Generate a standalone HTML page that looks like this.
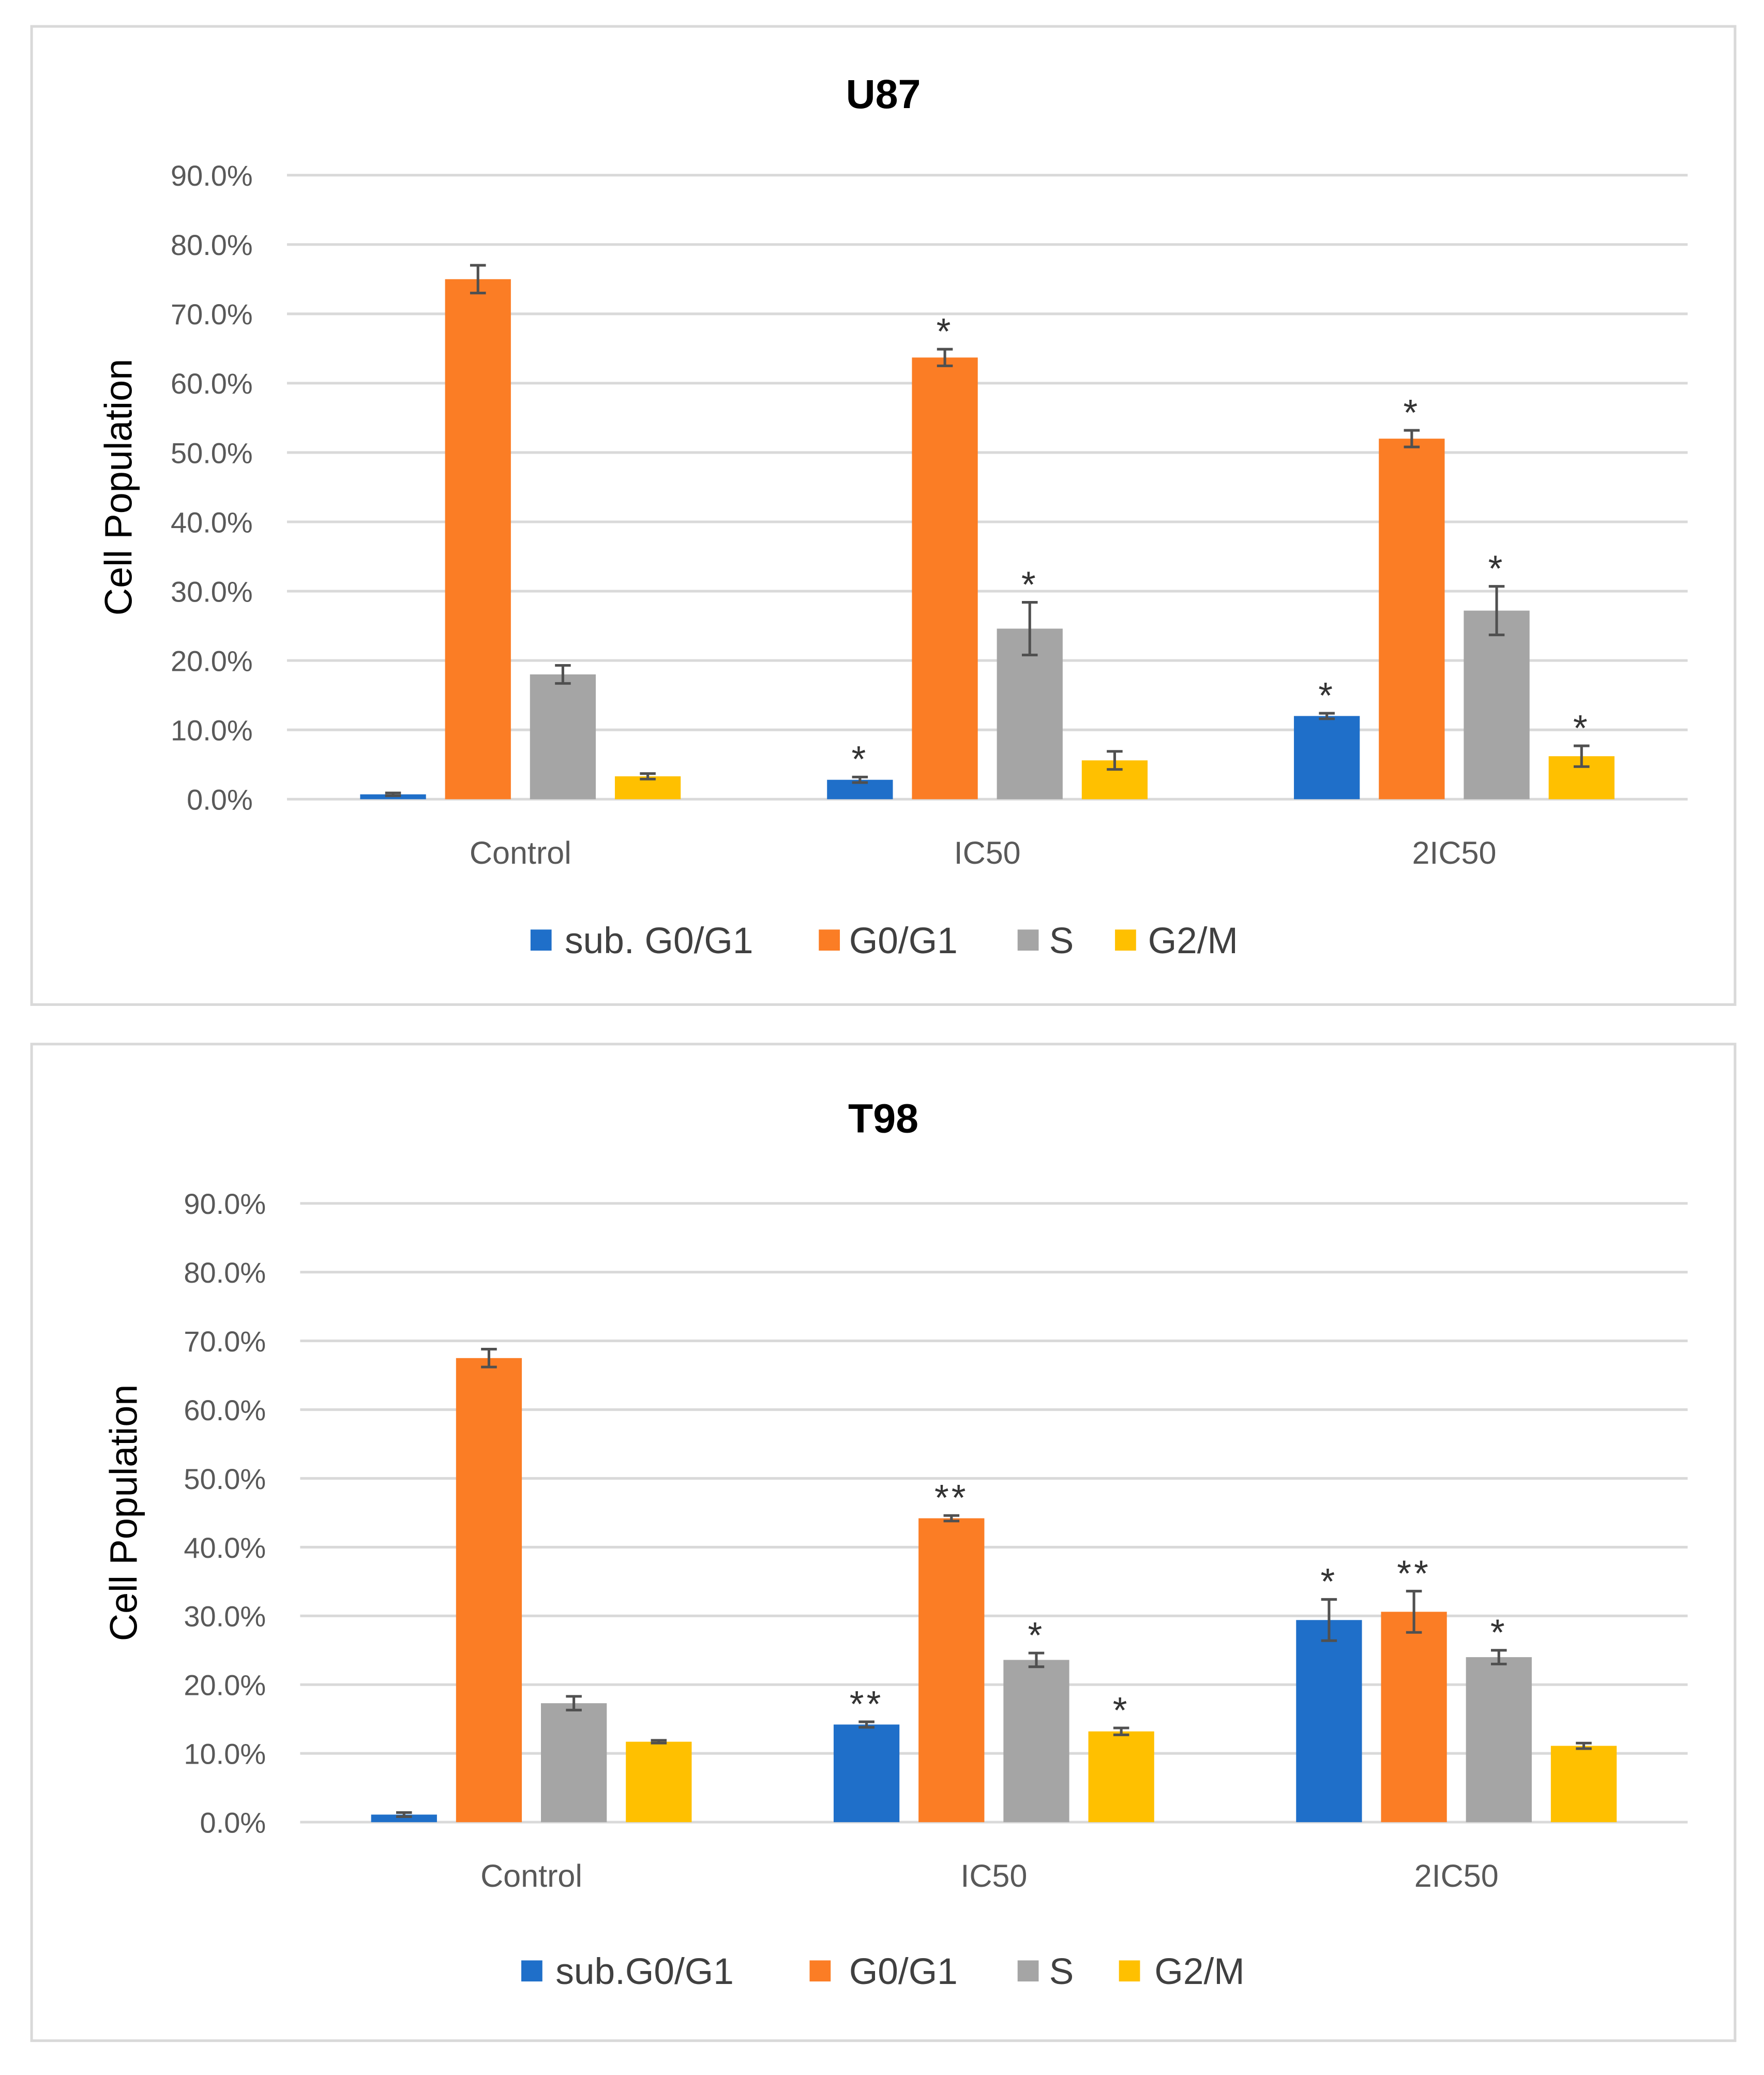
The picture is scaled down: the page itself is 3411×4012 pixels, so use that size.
<!DOCTYPE html>
<html><head><meta charset="utf-8"><style>
html,body{margin:0;padding:0;background:#fff;}
svg{display:block;}
text{font-family:"Liberation Sans",sans-serif;}
</style></head><body>
<svg id="fig" width="3411" height="4012" viewBox="0 0 1340 1576" xmlns="http://www.w3.org/2000/svg">
<rect x="0" y="0" width="1340" height="1576" fill="#fff"/>
</svg>
<script>
const categories = ["Control","IC50","2IC50"];
const seriesNames = ["sub. G0/G1","G0/G1","S","G2/M"];
const seriesNamesT98 = ["sub.G0/G1","G0/G1","S","G2/M"];
const tickLabels = ["0.0%","10.0%","20.0%","30.0%","40.0%","50.0%","60.0%","70.0%","80.0%","90.0%"];
const tickValues = [0,10,20,30,40,50,60,70,80,90];
// U87 values per series (Control, IC50, 2IC50)
const u87Sub = [0.7, 2.8, 12.0];
const u87G0 = [75.0, 63.7, 52.0];
const u87S = [18.0, 24.6, 27.2];
const u87G2 = [3.3, 5.6, 6.2];
const u87SubErr = [0.2, 0.4, 0.4];
const u87G0Err = [2.0, 1.2, 1.2];
const u87SErr = [1.3, 3.8, 3.5];
const u87G2Err = [0.4, 1.3, 1.5];
const u87Stars = [["","*","*"],["","*","*"],["","*","*"],["","","*"]];
// T98
const t98Sub = [1.1, 14.2, 29.4];
const t98G0 = [67.5, 44.2, 30.6];
const t98S = [17.3, 23.6, 24.0];
const t98G2 = [11.7, 13.2, 11.1];
const t98SubErr = [0.3, 0.4, 3.0];
const t98G0Err = [1.3, 0.4, 3.0];
const t98SErr = [1.0, 1.0, 1.0];
const t98G2Err = [0.2, 0.5, 0.4];
const t98Stars = [["","**","*"],["","**","**"],["","*","*"],["","*",""]];

const colors = ["#1f6fc9","#fb7d25","#a5a5a5","#ffc000"];
const NS = "http://www.w3.org/2000/svg";
const svg = document.getElementById('fig');
function mk(tag, attrs, parent, txt){
  const e = document.createElementNS(NS, tag);
  for (const k in attrs) e.setAttribute(k, attrs[k]);
  if (txt !== undefined) e.textContent = txt;
  parent.appendChild(e);
  return e;
}
function drawChart(cfg){
  const g = mk('g', {}, svg);
  
  
  const bg = mk('rect', {x:cfg.box[0], y:cfg.box[1], width:cfg.box[2], height:cfg.box[3], fill:'#fff', stroke:'#d9d9d9', 'stroke-width':2}, g);
  
  
  const t = mk('text', {x:671, y:cfg.titleY, 'text-anchor':'middle', 'font-size':31, 'font-weight':'bold', fill:'#000'}, g, cfg.title);
  
  
  const y = v => cfg.y0 - (v/90)*(cfg.y0 - cfg.y90);
  tickValues.forEach((v,i)=>{
    const l = mk('line', {x1:cfg.x0, x2:cfg.x1, y1:y(v), y2:y(v), stroke:'#d9d9d9', 'stroke-width':2}, g);
    
    
    const tl = mk('text', {x:cfg.x0-26, y:y(v)+8, 'text-anchor':'end', 'font-size':22, fill:'#595959'}, g, tickLabels[i]);
    
    
  });
  const yt = mk('text', {x:0, y:0, transform:`translate(${cfg.axisX},${(cfg.y0+cfg.y90)/2}) rotate(-90)`, 'text-anchor':'middle', 'font-size':29, fill:'#000'}, g, 'Cell Population');
  
  
  const catW = (cfg.x1 - cfg.x0)/3;
  const bw = 50, pitch = 64.5;
  categories.forEach((c,ci)=>{
    const cx = cfg.x0 + catW*(ci+0.5);
    const cl = mk('text', {x:cx, y:cfg.y0+49, 'text-anchor':'middle', 'font-size':24, fill:'#595959'}, g, c);
    
    
    cfg.series.forEach((s,si)=>{
      const bx = cx + (si-1.5)*pitch;
      const v = s[ci], e = cfg.errs[si][ci];
      const r = mk('rect', {x:bx-bw/2, y:y(v), width:bw, height:cfg.y0-y(v), fill:colors[si]}, g);
      
      
      const eg = mk('path', {d:`M${bx},${y(v+e)}V${y(v-e)}M${bx-6},${y(v+e)}H${bx+6}M${bx-6},${y(v-e)}H${bx+6}`, stroke:'#505050', 'stroke-width':2, fill:'none'}, g);
      
      
      const st = cfg.stars[si][ci];
      if (st){
        const sx = mk('text', {x:bx, y:y(v+e)-4, 'text-anchor':'middle', 'font-size':28, fill:'#333', 'letter-spacing':2}, g, st);
        
        
      }
    });
  });
  cfg.legend.forEach((lg,i)=>{
    const sq = mk('rect', {x:lg[0], y:cfg.legY-8, width:16, height:16, fill:colors[i]}, g);
    
    
    const lt = mk('text', {x:lg[1], y:cfg.legY+10, 'font-size':28, fill:'#404040'}, g, cfg.names[i]);
    
    
  });
}
drawChart({name:'u87-chart', title:'U87', box:[24,20,1294,743], titleY:82, x0:218, x1:1282, y0:607, y90:133, axisX:100,
  series:[u87Sub,u87G0,u87S,u87G2], errs:[u87SubErr,u87G0Err,u87SErr,u87G2Err], stars:u87Stars,
  names:seriesNames, legY:714, legend:[[403,429],[622,645],[773,797],[847,872]]});
drawChart({name:'t98-chart', title:'T98', box:[24,793,1294,757], titleY:860, x0:228, x1:1282, y0:1384, y90:914, axisX:104,
  series:[t98Sub,t98G0,t98S,t98G2], errs:[t98SubErr,t98G0Err,t98SErr,t98G2Err], stars:t98Stars,
  names:seriesNamesT98, legY:1497, legend:[[396,422],[615,645],[773,797],[850,877]]});
</script>
</body></html>
